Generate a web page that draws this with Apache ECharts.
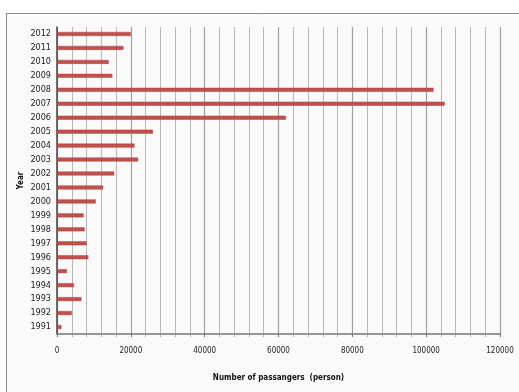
<!DOCTYPE html>
<html><head><meta charset="utf-8">
<script src="https://cdn.jsdelivr.net/npm/echarts@6/dist/echarts.min.js"></script>
<style>html,body{margin:0;padding:0;background:#fff}#c{width:519px;height:392px}</style>
</head><body><div id="c"></div>
<script>
const years = ['1991','1992','1993','1994','1995','1996','1997','1998','1999','2000','2001','2002','2003','2004','2005','2006','2007','2008','2009','2010','2011','2012'];
const passengers = [1200,4000,6600,4600,2700,8500,8000,7500,7200,10500,12500,15500,22000,21000,26000,62000,105000,102000,15000,14000,18000,20000];
const xTicks = [0,20000,40000,60000,80000,100000,120000];
const xName = 'Number of passangers  (person)';
const yName = 'Year';

const chart = echarts.init(document.getElementById('c'));
const fontF = '"DejaVu Sans Condensed", "Liberation Sans", sans-serif';
chart.setOption({
  animation:false,
  backgroundColor:'#fff',
  graphic:[{type:'rect',z:-10,silent:true,shape:{x:6.5,y:13.5,width:530,height:400},style:{fill:'#fafafa',stroke:'#8a8a8a',lineWidth:1}}],
  grid:{left:57,right:19,top:27,bottom:58},
  xAxis:{type:'value',min:xTicks[0],max:xTicks[xTicks.length-1],interval:20000,
    axisLine:{show:true,lineStyle:{color:'#777',width:1.5}},
    axisTick:{show:true,length:3,lineStyle:{color:'#777'}},
    minorTick:{show:true,splitNumber:5,length:3,lineStyle:{color:'#aaa'}},
    splitLine:{show:true,lineStyle:{color:'#a0a0a0',width:1.2}},
    minorSplitLine:{show:true,lineStyle:{color:'#b8b8b8',width:1}},
    axisLabel:{margin:13,fontSize:8,color:'#222',fontFamily:fontF,formatter:v=>String(v)},
    name:xName,nameLocation:'middle',nameGap:40,
    nameTextStyle:{fontSize:8,color:'#111',fontWeight:'bold',fontFamily:fontF}},
  yAxis:{type:'category',data:years,
    axisLine:{show:true,lineStyle:{color:'#444',width:1.5}},
    axisTick:{show:false},
    axisLabel:{margin:6,fontSize:9,color:'#222',fontFamily:fontF},
    name:yName,nameLocation:'middle',nameGap:32,nameRotate:90,nameMoveOverlap:false,
    nameTextStyle:{fontSize:8,color:'#111',fontWeight:'bold',fontFamily:fontF}},
  series:[{type:'bar',data:passengers,barWidth:4,itemStyle:{color:'#c0504d',borderColor:'#b5433f',borderWidth:0.5}}]
});
</script></body></html>
